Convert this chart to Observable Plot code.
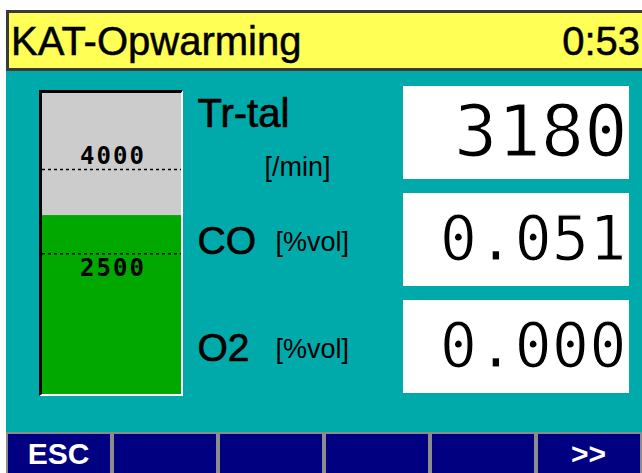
<!DOCTYPE html>
<html>
<head>
<meta charset="utf-8">
<script src="https://cdn.jsdelivr.net/npm/d3@7"></script>
<script src="https://cdn.jsdelivr.net/npm/@observablehq/plot@0.6"></script>
<style>
  html, body { margin: 0; padding: 0; background: #ffffff; width: 642px; height: 473px; overflow: hidden; }
  #screen { position: relative; width: 642px; height: 473px; }
  #body { position: absolute; left: 6px; top: 71px; width: 636px; height: 402px; background: #00aaaa; }
  #header { position: absolute; left: 6px; top: 10px; width: 636px; height: 61px; box-sizing: border-box;
    border: 3px solid #3a3a3a; border-right: none; background: #ffff55;
    display: flex; align-items: center; justify-content: space-between;
    font-family: "Liberation Sans", Arial, sans-serif; font-size: 40px; color: #000;
    -webkit-text-stroke: 0.5px #000;
    padding: 0 2px 0 2px; }
  #header span { line-height: 40px; }
  #gauge { position: absolute; left: 39px; top: 90px; width: 144px; height: 306px; box-sizing: border-box;
    border-left: 3px solid #000; border-top: 3px solid #000; border-right: 2px solid #fff; border-bottom: 2px solid #fff; }
  #readouts { position: absolute; left: 190px; top: 72px; width: 452px; height: 360px; }
  #buttons { position: absolute; left: 6px; top: 432px; width: 636px; height: 44px; }
  svg { display: block; }
  .thin-digits text { paint-order: normal !important; }
</style>
</head>
<body>
<div id="screen">
  <div id="body"></div>
  <div id="header"><span id="title"></span><span id="clock"></span></div>
  <div id="gauge"></div>
  <div id="readouts"></div>
  <div id="buttons"></div>
</div>
<script>
// ---- data ----
const screenTitle = "KAT-Opwarming";
const clockText = "0:53";

const gaugeMax = 5350;          // top of the rpm bar gauge
const rpmValue = 3180;          // current engine speed (bar height)
const rpmThresholds = [4000, 2500];

const readoutNames = ["Tr-tal", "CO", "O2"];
const readoutUnits = ["[/min]", "[%vol]", "[%vol]"];
const readoutValues = [3180, 0.051, 0.000];
const readoutFormats = ["d", ".3f", ".3f"];

const buttonLabels = ["ESC", "", "", "", "", ">>"];

// ---- header ----
document.getElementById("title").textContent = screenTitle;
document.getElementById("clock").textContent = clockText;

// ---- gauge ----
const gauge = Plot.plot({
  width: 139, height: 301, margin: 0,
  style: {background: "#cccccc", overflow: "visible", letterSpacing: "2px"},
  y: {domain: [0, gaugeMax], axis: null},
  marks: [
    Plot.barY([rpmValue], {y: d => d, fill: "#00a800"}),
    Plot.ruleY(rpmThresholds, {stroke: "#000", strokeWidth: 1.5, strokeDasharray: "3,3"}),
    Plot.text(rpmThresholds.slice(0, 1), {y: d => d, text: d => String(d), frameAnchor: "middle", dx: 1, dy: -13,
      fontFamily: "DejaVu Sans Mono", fontWeight: "bold", fontSize: 24, fill: "#000"}),
    Plot.text(rpmThresholds.slice(1), {y: d => d, text: d => String(d), frameAnchor: "middle", dx: 1, dy: 14,
      fontFamily: "DejaVu Sans Mono", fontWeight: "bold", fontSize: 24, fill: "#000"})
  ]
});
document.getElementById("gauge").appendChild(gauge);

// ---- readouts ----
const rows = readoutNames.map((name, i) => ({name, unit: readoutUnits[i], value: readoutValues[i], fmt: readoutFormats[i]}));
const valueStyle = {frameAnchor: "right", textAnchor: "end", fontFamily: "DejaVu Sans Mono", fill: "#000",
  stroke: "#ffffff", strokeWidth: 1.2, paintOrder: "normal", className: "thin-digits"};
const labelStyle = {frameAnchor: "left", textAnchor: "start", fontFamily: "Liberation Sans", fill: "#000"};
const readouts = Plot.plot({
  width: 452, height: 360,
  marginLeft: 213, marginRight: 13, marginTop: 14, marginBottom: 38,
  style: {background: "transparent", overflow: "visible"},
  y: {type: "band", domain: readoutNames, paddingInner: 0.13, paddingOuter: 0, axis: null},
  marks: [
    Plot.cell(rows, {y: "name", fill: "white", inset: 0}),
    Plot.text(rows.slice(0, 1), {...valueStyle, y: "name", text: d => d3.format(d.fmt)(d.value), dx: -2, dy: 0, fontSize: 72}),
    Plot.text(rows.slice(1), {...valueStyle, y: "name", text: d => d3.format(d.fmt)(d.value), dx: -3, dy: 0, fontSize: 62}),
    Plot.text(rows.slice(0, 1), {...labelStyle, y: "name", text: "name", dx: -206, dy: -19, fontSize: 40,
      stroke: "#000", strokeWidth: 0.7}),
    Plot.text(rows.slice(1), {...labelStyle, y: "name", text: "name", dx: -206, dy: 2, fontSize: 39,
      stroke: "#000", strokeWidth: 0.7}),
    Plot.text(rows.slice(0, 1), {...labelStyle, y: "name", text: "unit", dx: -139, dy: 34, fontSize: 27}),
    Plot.text(rows.slice(1), {...labelStyle, y: "name", text: "unit", dx: -128, dy: 2, fontSize: 27})
  ]
});
document.getElementById("readouts").appendChild(readouts);

// ---- soft-key bar ----
const buttons = buttonLabels.map((label, i) => ({i, label}));
const keys = Plot.plot({
  width: 636, height: 44, margin: 0,
  style: {background: "transparent", overflow: "visible"},
  x: {type: "band", domain: d3.range(buttonLabels.length), padding: 0, axis: null},
  marks: [
    Plot.cell(buttons, {x: "i", fill: "#000080", stroke: "#8c8c8c", strokeWidth: 2, inset: 1}),
    Plot.text(buttons, {x: "i", text: "label", frameAnchor: "middle", dx: -1, dy: 0,
      fill: "#ffffff", fontSize: 30, fontWeight: "bold", fontFamily: "Liberation Sans"})
  ]
});
document.getElementById("buttons").appendChild(keys);
</script>
</body>
</html>
